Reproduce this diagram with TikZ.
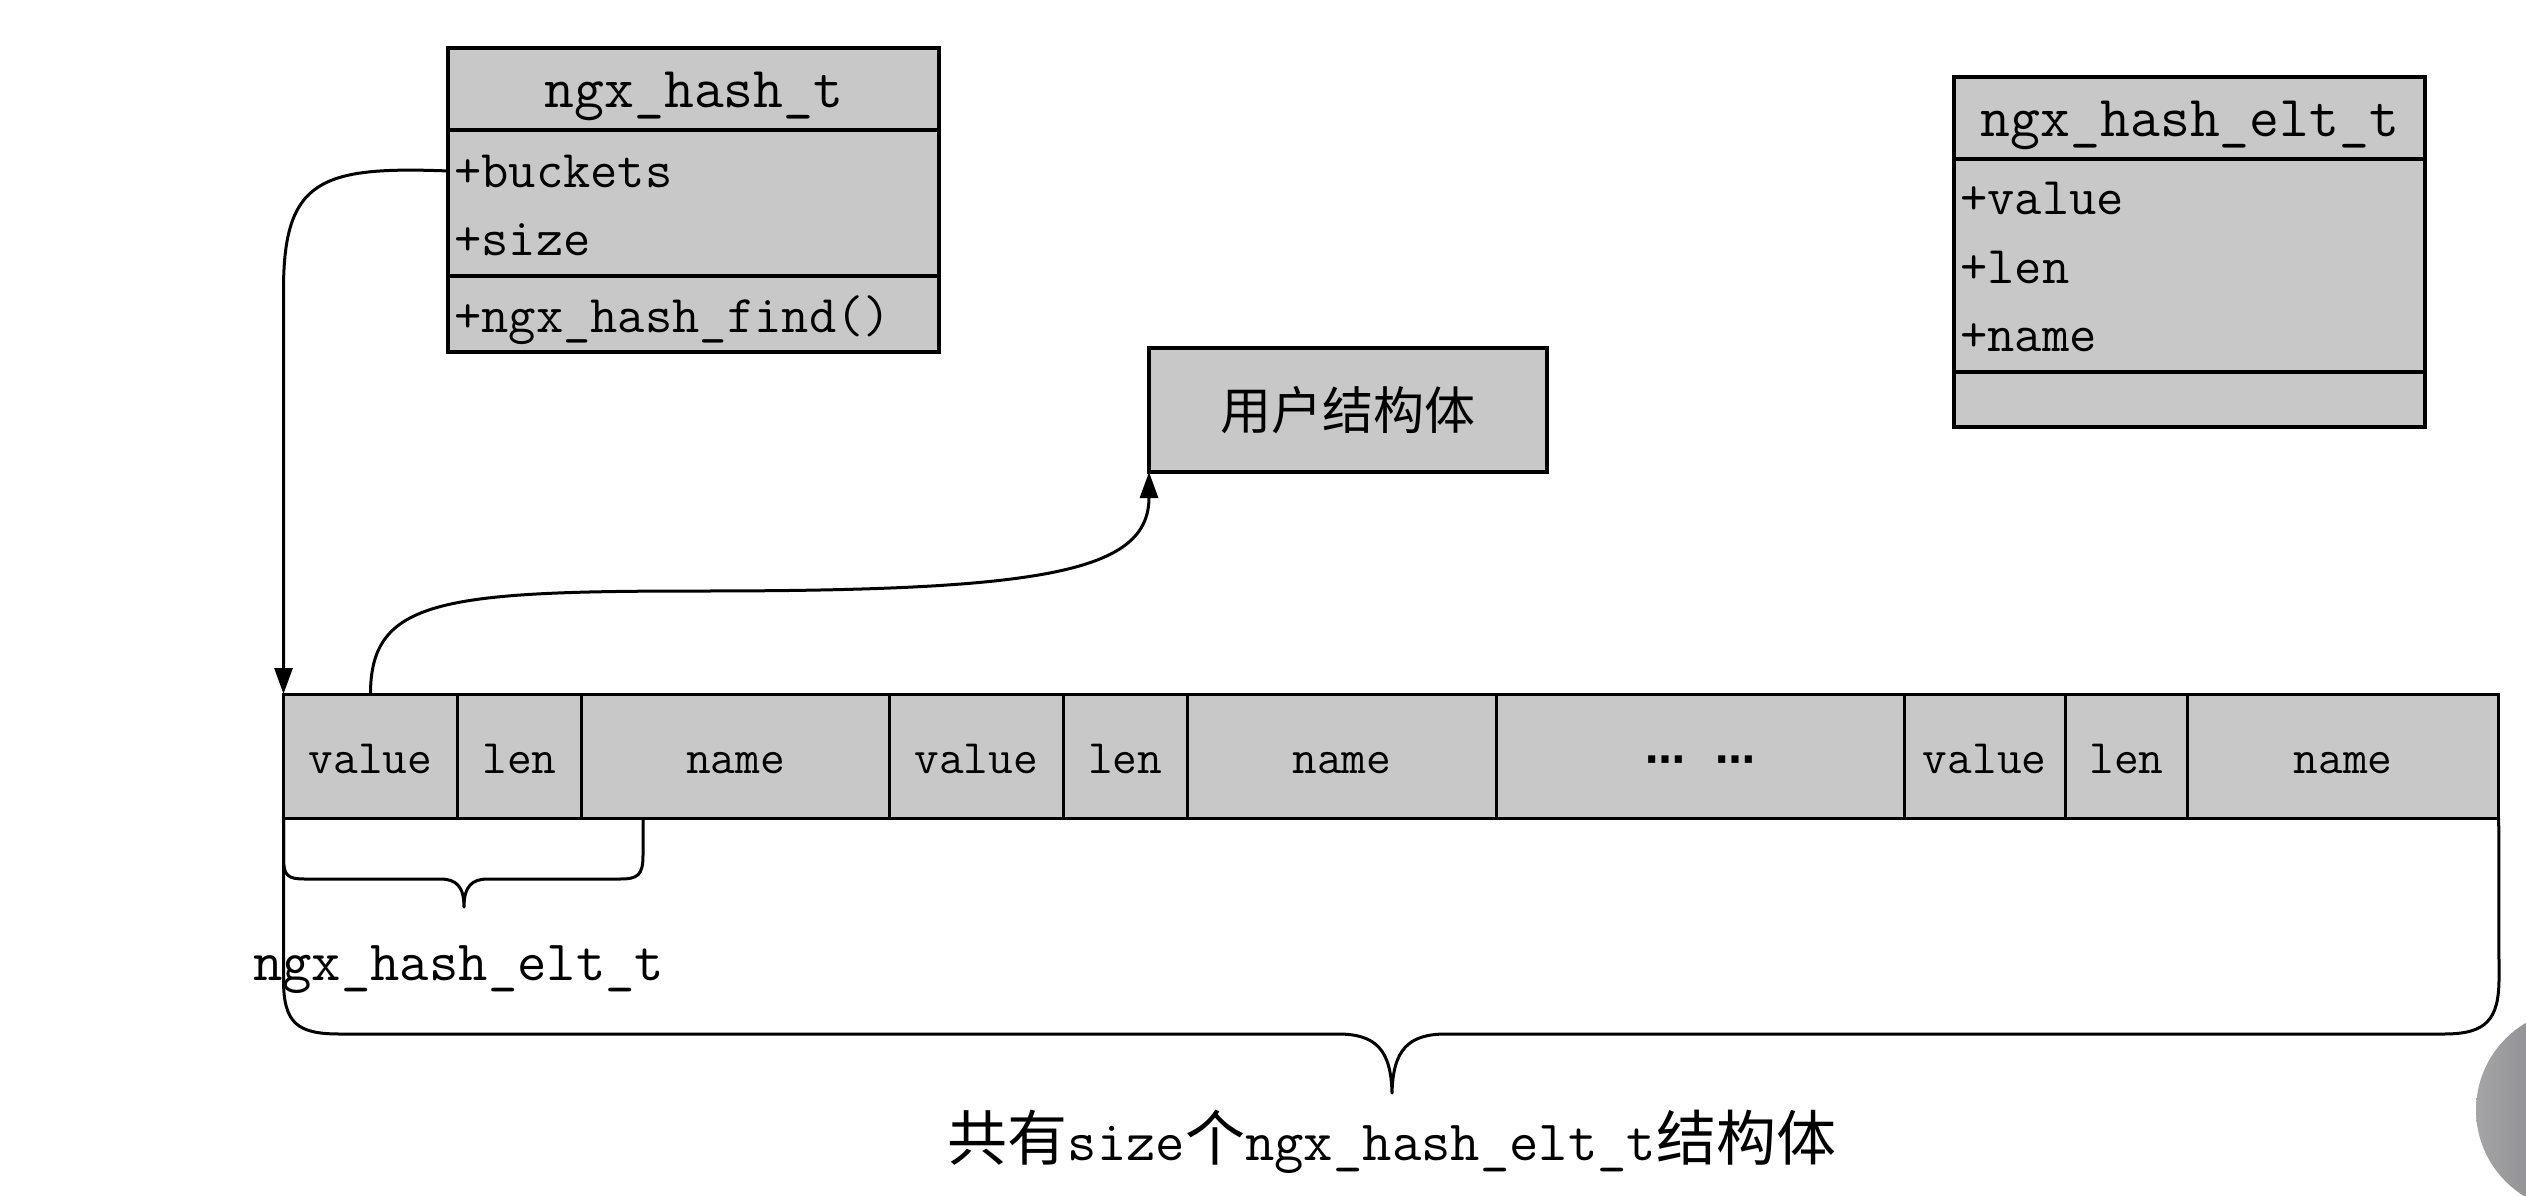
\documentclass[tikz,border=0pt]{standalone}
\usepackage{fontspec}
\newfontfamily\mono{Latin Modern Mono}
\newfontfamily\cjk{Noto Sans CJK SC}
\newfontfamily\dv{DejaVu Sans}
\usetikzlibrary{arrows.meta}
\definecolor{boxgray}{RGB}{200,200,200}
\newcommand\bigcjk{\cjk\fontsize{60}{70}\selectfont}
\begin{document}
\begin{tikzpicture}[x=1pt,y=-1pt,
  boxpart/.style={draw=black, line width=3.5pt, fill=boxgray, rectangle, inner sep=0pt, outer sep=0pt, anchor=north west},
  cell/.style={boxpart, line width=3pt, minimum height=124pt, font=\mono\fontsize{48}{56}\selectfont, text height=34pt, text depth=0pt},
  member/.style={anchor=base west, inner sep=0pt, font=\mono\fontsize{53}{62}\selectfont},
  title/.style={anchor=base, inner sep=0pt, font=\mono\fontsize{58}{68}\selectfont},
  link/.style={draw=black, line width=3pt, -{Triangle[length=26pt,width=18pt]}},
  brace/.style={draw=black, line width=3pt, line join=round},
  label/.style={inner sep=0pt, font=\mono\fontsize{57}{66}\selectfont}
]
\useasboundingbox (0,0) rectangle (2526,1196);
\fill[white] (0,0) rectangle (2526,1196);

% ngx_hash_t class box
\node[boxpart, minimum width=491pt, minimum height=82pt] (ht) at (448,48) {};
\node[boxpart, minimum width=491pt, minimum height=146pt] (hm) at (448,130) {};
\node[boxpart, minimum width=491pt, minimum height=76pt] (hf) at (448,276) {};
\node[title] (htt) at (694,108) {ngx\_hash\_t};
\node[member] (bk) at (454,187) {+buckets};
\node[member] (sz) at (454,255) {+size};
\node[member] (fd) at (454,332) {+ngx\_hash\_find()};

% ngx_hash_elt_t class box
\node[boxpart, minimum width=471pt, minimum height=82pt] (et) at (1954,77) {};
\node[boxpart, minimum width=471pt, minimum height=213pt] (em) at (1954,159) {};
\node[boxpart, minimum width=471pt, minimum height=55pt] (ef) at (1954,372) {};
\node[title] (ett) at (2190,137) {ngx\_hash\_elt\_t};
\node[member] (ev) at (1960,214) {+value};
\node[member] (el) at (1960,283) {+len};
\node[member] (en) at (1960,351) {+name};

% user struct
\node[boxpart, anchor=center, minimum width=398pt, minimum height=124pt,
      font=\cjk\fontsize{51}{60}\selectfont] (us) at (1348,410) {用户结构体};

% bucket row
\node[cell, minimum width=174pt]   (c1)  at (283.5,694)  {value};
\node[cell, minimum width=124.1pt] (c2)  at (457.5,694)  {len};
\node[cell, minimum width=307.7pt] (c3)  at (581.6,694)  {name};
\node[cell, minimum width=173.7pt] (c4)  at (889.3,694)  {value};
\node[cell, minimum width=124.3pt] (c5)  at (1063,694)   {len};
\node[cell, minimum width=309.3pt] (c6)  at (1187.3,694) {name};
\node[cell, minimum width=407.6pt] (c7)  at (1496.6,694) {{\dv\bfseries\fontsize{40}{46}\selectfont ⋯\hspace{30pt}⋯}};
\node[cell, minimum width=161.1pt] (c8)  at (1904.2,694) {value};
\node[cell, minimum width=122.4pt] (c9)  at (2065.3,694) {len};
\node[cell, minimum width=311pt]   (c10) at (2187.7,694) {name};

% connectors
\draw[link] (hm.west |- bk.center) .. controls (320,166) and (c1.west |- 0,180) .. (c1.west |- 0,290) -- (c1.north west);
\draw[link] (c1.north) .. controls (c1.north |- 0,600) and (440,591) .. (700,591)
            .. controls (1045,591) and (us.south west |- 0,572) .. (us.south west);

% small brace (one ngx_hash_elt_t)
\draw[brace] (c1.south west) -- (283.5,858) .. controls (283.5,876) and (288,879) .. (305,879)
  -- (440,879) .. controls (456,879) and (464,886) .. (464,907)
  .. controls (464,886) and (472,879) .. (488,879)
  -- (620,879) .. controls (638,879) and (643,875) .. (643,855) -- (643,818);
\node[label, anchor=base west] (eltlbl) at (253,980) {ngx\_hash\_elt\_t};

% big brace (size entries)
\draw[brace] (c1.south west) -- (283.5,980) .. controls (283.5,1024) and (298,1034) .. (340,1034)
  -- (1338,1034) .. controls (1376,1034) and (1391,1050) .. (1392,1093)
  .. controls (1393,1050) and (1408,1034) .. (1446,1034)
  -- (2444,1034) .. controls (2486,1034) and (2499,1020) .. (2499,978) -- (c10.south east);
\node[label, anchor=base] (total) at (1392,1160) {{\bigcjk 共有}size{\bigcjk 个}ngx\_hash\_elt\_t{\bigcjk 结构体}};

% screen-recording overlay (grey disc at the lower right edge)
\shade[left color={rgb,255:red,165;green,165;blue,168}, right color={rgb,255:red,95;green,95;blue,100}]
  (2577,1110) circle[radius=101pt];
\end{tikzpicture}
\end{document}
